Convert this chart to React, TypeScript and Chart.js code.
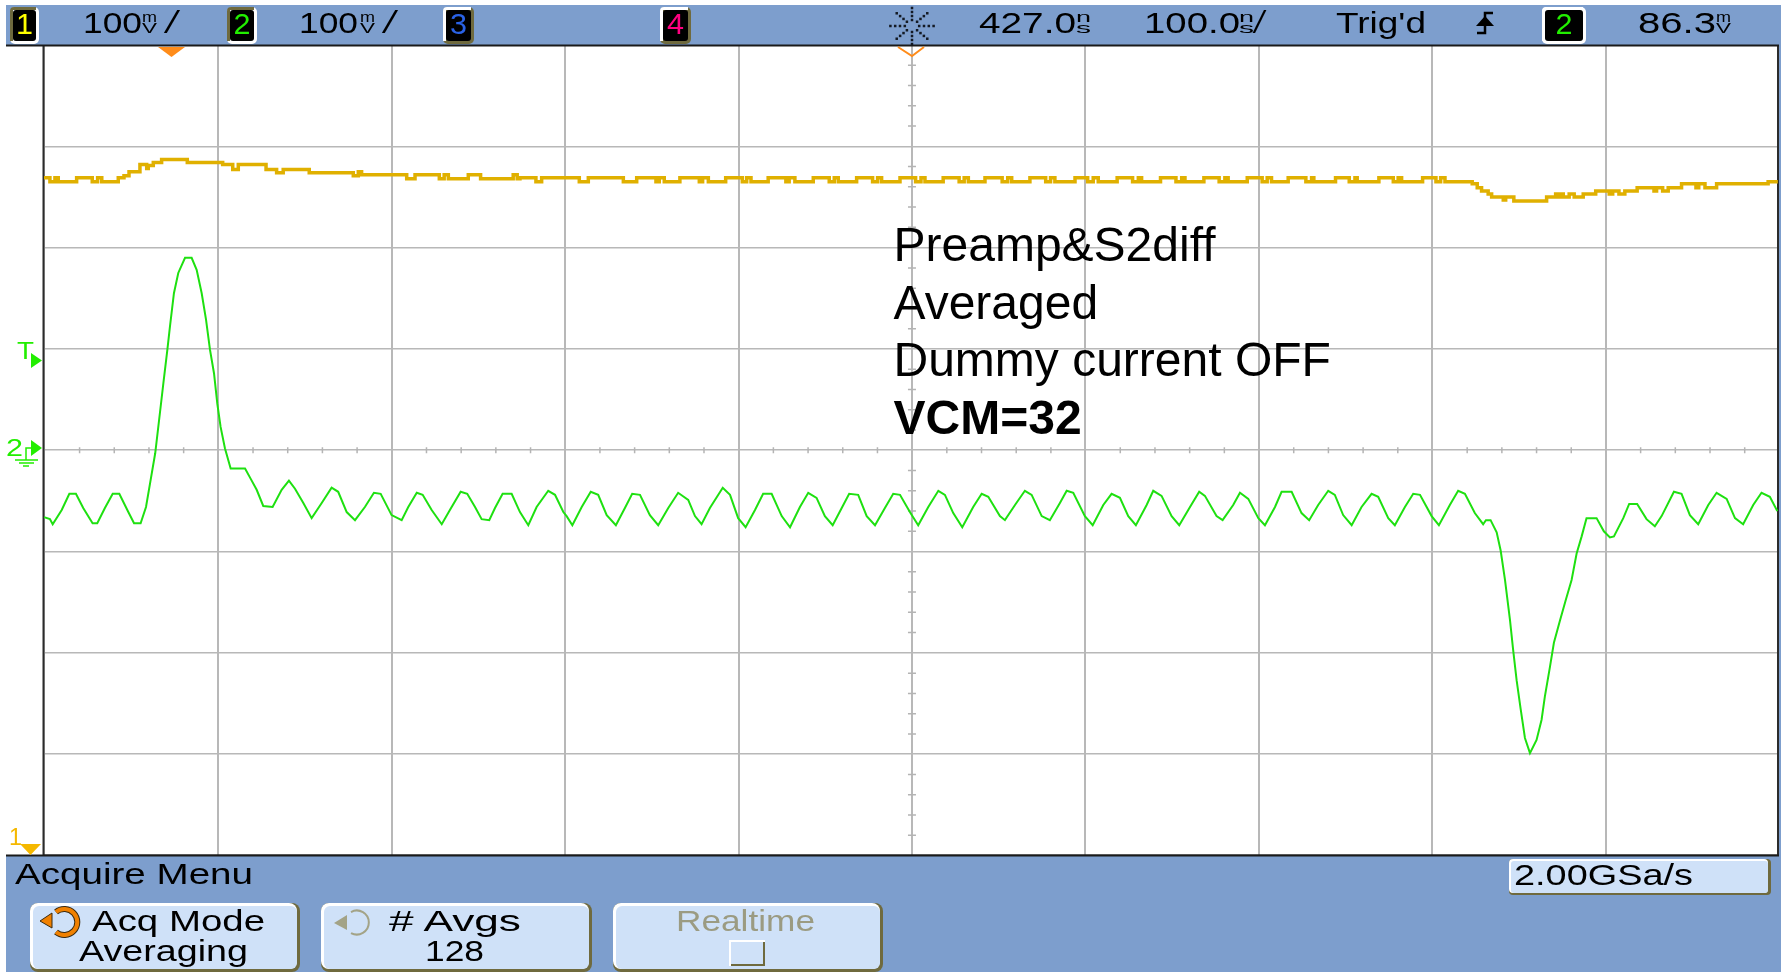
import React, { useEffect, useRef } from "react";
import { Chart, registerables } from "chart.js";

Chart.register(...registerables);

const xGridNs = [-73, 27.8, 127.7, 227.7, 327.7, 427.7, 527.6, 627.6, 727.6, 827.6, 927];
const yGridMv = [-400, -300, -200, -100, 0, 100, 200, 300, 400];

const ch2Ns = [
  -72.7, -69.3, -67.7, -62.5, -58.1, -54.3, -50.1, -44.7, -42, -37.6, -33.1, -29.3, -24.1, -20.8, -17, -13.9,
  -11.2, -8.6, -5.8, -3.9, -1.6, -0.1, 2.2, 4.7, 8.6, 12.4, 15.3, 18.2, 20.7, 23, 25.3, 27.2, 29.1, 31.6, 34.9,
  43.2, 46.4, 49.9, 53.7, 59.1, 64.3, 68.5, 72, 76.8, 81.6, 87.4, 93.1, 96.9, 101.8, 106.6, 112.3, 117.5, 121.4,
  127.7, 133.5, 137.3, 142.2, 145.6, 150.8, 156.6, 161.3, 167.5, 171.3, 175.8, 179.6, 184, 187.3, 191.7, 196.9,
  201.7, 206.5, 211.3, 218, 221.9, 226.7, 228.6, 231.9, 237.3, 242.5, 246.8, 251.7, 257, 262.2, 266.4, 270.9,
  276.6, 281.4, 287.2, 292.9, 298.7, 302.6, 306.4, 311.2, 318.6, 322.8, 327.5, 331.8, 337.2, 341.9, 346.8, 352.6,
  357.4, 363.1, 367.9, 372.7, 377.5, 382, 387.2, 391.5, 396.7, 401.6, 406.4, 412.1, 416.9, 420.8, 426.5, 431.3,
  437.1, 442.9, 446.7, 451.5, 456.7, 463, 467.9, 471.7, 478.4, 481.3, 487.1, 492.8, 496.7, 502.5, 507.2, 513,
  516.9, 520.7, 527.4, 531.9, 538, 542.8, 547.6, 552.4, 556.8, 563, 566.8, 571.6, 577.4, 581.8, 588, 593.3, 596.6,
  603.3, 606.8, 612.9, 616.8, 621.6, 627.4, 631.2, 637, 640.8, 646.6, 652.3, 656.7, 661.9, 667.7, 671.5, 676.3,
  681.2, 686.9, 692.7, 696.5, 702.3, 706.1, 711.9, 716.7, 720.6, 727.3, 731.5, 737.8, 742.6, 746.5, 752.2, 757,
  758.6, 761.3, 764.8, 767.1, 769.6, 772.5, 774.3, 776.3, 778.6, 781.1, 784, 787.8, 790.7, 792.6, 795.5, 797.8,
  801.3, 804.6, 808, 810.9, 813.8, 816.6, 822.4, 826.6, 830.1, 832.4, 837.8, 841.2, 845.8, 851.2, 856, 859.9, 867,
  871.4, 876.2, 881, 886.8, 891.6, 897.4, 902.2, 906.9, 912.7, 917.5, 922.3, 926.6,
];
const ch2Mv = [
  -66, -68, -73, -59, -43, -43, -57, -72, -72, -57, -43, -43, -61, -72, -72, -56,
  -29, -3, 38, 66, 99, 122, 155, 175, 190, 190, 178, 155, 129, 99, 76, 46, 23, 2, -18,
  -18, -28, -39, -55, -56, -39, -30, -38, -52, -67, -52, -37, -41, -61, -69, -56, -42, -43,
  -64, -69, -56, -42, -44, -59, -73, -59, -41, -43, -56, -68, -69, -57, -43, -43,
  -61, -74, -56, -40, -44, -61, -65, -74, -56, -41, -44, -64, -74, -57, -43, -44,
  -64, -74, -57, -42, -49, -65, -73, -57, -37, -44, -67, -76, -59, -43, -43, -65,
  -76, -56, -42, -47, -65, -74, -57, -43, -44, -65, -74, -57, -43, -44, -61, -74,
  -56, -40, -44, -62, -76, -56, -43, -46, -65, -69, -54, -40, -44, -65, -69, -52,
  -40, -42, -65, -74, -54, -43, -47, -65, -74, -54, -40, -45, -65, -74, -56, -41, -45,
  -65, -69, -54, -42, -48, -67, -74, -56, -41, -41, -62, -69, -54, -40, -44, -64,
  -74, -56, -43, -46, -67, -74, -56, -43, -44, -65, -74, -54, -40, -43, -62, -73,
  -69, -69, -81, -99, -128, -168, -197, -227, -255, -284, -299, -286, -266, -243, -214, -190,
  -168, -148, -128, -102, -85, -67, -67, -80, -86, -85, -67, -53, -53, -68, -75, -65, -41,
  -43, -64, -73, -54, -42, -48, -67, -73, -54, -42, -46, -60,
];

const ch1Ns = [
  -72.7, -69.3, -66.4, -64.5, -53.9, -44.9, -41.8, -39.4, -29.9, -26.6, -23.7, -17.4, -13.5, -12.6, -9.7, -4.9,
  9.9, 30.3, 36.1, 39.3, 55.3, 61.4, 65.2, 80.2, 105.6, 108.5, 110.4, 136.4, 141.2, 155.2, 158, 160.4, 171.9, 179,
  197.8, 200.1, 201.7, 210.9, 214.2, 235.9, 241.1, 261.3, 269, 280.1, 282, 284.9, 293.9, 305.1, 307, 310.3, 320.3,
  329.9, 332.4, 334.9, 344.8, 355, 356.9, 360.2, 370.8, 380, 382.9, 385.2, 395.8, 405, 407.9, 410.2, 420.8, 429.8,
  432.9, 435.2, 445.7, 454.9, 457.8, 460.2, 469.8, 479.7, 482.9, 485.2, 495.7, 504.8, 507.6, 510.1, 521.7, 529,
  532.2, 535.1, 546, 554.9, 558.2, 560.1, 571, 579.9, 583.2, 585.1, 596, 604.8, 608.1, 610, 621, 629.6, 632.5, 635,
  644.6, 654.8, 658.1, 659.4, 671.9, 679.8, 683.1, 684.4, 696.9, 705.2, 708, 710, 722.1, 729.8, 732.5, 735, 750.7,
  753.6, 756.1, 759.9, 761.9, 768.6, 770, 774.7, 793.6, 798.8, 799.7, 801.3, 803.2, 806.6, 809.5, 814.7, 821.9,
  829.7, 831.7, 835.3, 838.7, 845.8, 855.5, 857, 860.5, 863.7, 871.4, 879.7, 881.3, 884.9, 891.6, 921.3, 926.9,
];
const ch1Mv = [
  269, 265, 269, 265, 269, 265, 269, 265, 269, 271, 275, 282, 278, 281, 284, 287,
  284, 282, 277, 282, 277, 274, 277, 274, 271, 275, 272, 268, 272, 268, 272, 268, 272, 268,
  272, 268, 269, 265, 269, 265, 269, 265, 269, 265, 269, 265, 269, 265, 269, 265, 269,
  265, 269, 265, 269, 265, 269, 265, 269, 265, 269, 265, 269, 265, 269, 265, 269, 265,
  269, 265, 269, 265, 269, 265, 269, 265, 269, 265, 269, 265, 269, 265, 269, 265,
  269, 265, 269, 265, 269, 265, 269, 265, 269, 265, 269, 265, 269, 265, 269, 265, 269, 265,
  269, 265, 269, 265, 269, 265, 269, 265, 269, 265, 269, 265, 269, 265, 269, 265, 263,
  259, 256, 253, 250, 247, 250, 246, 250, 253, 250, 253, 250, 253, 250, 253, 256,
  253, 256, 253, 256, 259, 256, 259, 256, 259, 263, 259, 263, 259, 263, 265, 265,
];

const annotationLines = ["Preamp&S2diff", "Averaged", "Dummy current OFF"];
const annotationBold = "VCM=32";

const BLUE = "#7d9ecd";
const BTN = "#cfe1f8";
const OLIVE = "#6f6a3e";
const SANS = "'Liberation Sans', Arial, sans-serif";
const MONO = "'Liberation Mono', monospace";

const toPoints = (xs: number[], ys: number[]) => xs.map((x, i) => ({ x, y: ys[i] }));

const graticule = {
  id: "graticule",
  beforeDatasetsDraw(chart: any) {
    const { ctx, chartArea: a, scales } = chart;
    const cx = scales.x.getPixelForValue(427.7);
    const cy = scales.y.getPixelForValue(0);
    ctx.save();
    ctx.strokeStyle = "#b4b4b4";
    ctx.lineWidth = 1.5;
    ctx.beginPath();
    for (let k = -4; k < 46; k++) {
      if (k % 5 === 0) continue;
      const p = scales.x.getPixelForValue(27.8 + k * 20);
      ctx.moveTo(p, cy - 3);
      ctx.lineTo(p, cy + 3);
    }
    for (let v = -400; v <= 400; v += 20) {
      if (v % 100 === 0) continue;
      const p = scales.y.getPixelForValue(v);
      ctx.moveTo(cx - 4, p);
      ctx.lineTo(cx + 4, p);
    }
    ctx.stroke();
    ctx.strokeStyle = "#2b2b2b";
    ctx.lineWidth = 2;
    ctx.strokeRect(a.left, a.top, a.right - a.left, a.bottom - a.top);
    ctx.restore();
  },
};

function T(p: { x: number; y: number; w?: number; s?: number; c?: string; children: any; a?: string; f?: string }) {
  return (
    <text
      x={p.x}
      y={p.y}
      textLength={p.w}
      lengthAdjust="spacingAndGlyphs"
      fontFamily={p.f ?? SANS}
      fontSize={p.s ?? 30}
      fill={p.c ?? "#000"}
      textAnchor={p.a as any}
    >
      {p.children}
    </text>
  );
}

function Badge(p: { x: number; w: number; y?: number; h?: number; tl: string; br: string; c: string; n: string }) {
  const y = p.y ?? 7;
  const h = p.h ?? 37;
  return (
    <g>
      <rect x={p.x} y={y} width={p.w} height={h} rx={5} fill={p.br} />
      <path d={`M${p.x} ${y + h - 3}V${y + 4}Q${p.x} ${y} ${p.x + 4} ${y}H${p.x + p.w - 3}V${y + 3}H${p.x + 3}V${y + h - 3}Z`} fill={p.tl} />
      <rect x={p.x + 3} y={y + 3} width={p.w - 6} height={h - 6} rx={3} fill="#000" />
      <T x={p.x + p.w / 2} y={34} s={30} w={17} c={p.c} a="middle">{p.n}</T>
    </g>
  );
}

function Unit(p: { x: number; a: string; b: string }) {
  return (
    <g>
      <T x={p.x} y={22} s={15} w={15}>{p.a}</T>
      <T x={p.x} y={33} s={15} w={15}>{p.b}</T>
    </g>
  );
}

function Button(p: { x: number; w: number }) {
  return (
    <g>
      <rect x={p.x} y={903} width={p.w} height={69} rx={8} fill={OLIVE} />
      <rect x={p.x} y={903} width={p.w - 3} height={66} rx={8} fill="#fff" />
      <rect x={p.x + 3} y={906} width={p.w - 6} height={63} rx={6} fill={BTN} />
    </g>
  );
}

function Sun() {
  const dots: React.ReactNode[] = [];
  for (let k = 0; k < 8; k++) {
    const ang = (k * Math.PI) / 4;
    for (const r of [6, 10, 14, 18]) {
      dots.push(<rect key={`${k}-${r}`} x={912 + Math.cos(ang) * r * 1.2 - 1.25} y={26 + Math.sin(ang) * r - 1.25} width={2.5} height={2.5} fill="#141a24" />);
    }
  }
  return <g>{dots}</g>;
}

function Panels() {
  return (
    <svg width={1787} height={972} style={{ position: "absolute", left: 0, top: 0 }}>
      <rect x={6} y={5} width={1775} height={40} fill={BLUE} />
      <rect x={6} y={856} width={1775} height={116} fill={BLUE} />
      <rect x={1779} y={45} width={2} height={811} fill={BLUE} />
      <rect x={6} y={44.5} width={1773} height={2} fill="#1a1a1a" />
      <rect x={6} y={854.5} width={1773} height={2} fill="#1a1a1a" />

      <Badge x={10} w={29} tl={OLIVE} br="#ffffff" c="#ffff00" n="1" />
      <T x={83} y={33} w={59}>100</T>
      <Unit x={142} a="m" b="V" />
      <T x={162} y={33} s={32} f={MONO} w={20}>/</T>
      <Badge x={227} w={30} tl={OLIVE} br="#ffffff" c="#22ee00" n="2" />
      <T x={299} y={33} w={59}>100</T>
      <Unit x={360} a="m" b="V" />
      <T x={380} y={33} s={32} f={MONO} w={20}>/</T>
      <Badge x={443} w={31} tl="#ffffff" br={OLIVE} c="#2a62e6" n="3" />
      <Badge x={660} w={31} tl="#ffffff" br={OLIVE} c="#ff0080" n="4" />
      <Sun />
      <T x={979} y={33} w={97}>427.0</T>
      <Unit x={1076} a="n" b="s" />
      <T x={1144} y={33} w={96}>100.0</T>
      <Unit x={1239} a="n" b="s" />
      <T x={1251} y={33} s={32} f={MONO} w={17}>/</T>
      <T x={1336} y={33} w={90}>Trig'd</T>
      <path d="M1493 13H1485V33H1477" fill="none" stroke="#000" strokeWidth={2.5} />
      <path d="M1476 26L1485 16L1494 26Z" fill="#000" />
      <Badge x={1542} w={44} tl="#ffffff" br="#ffffff" c="#22ee00" n="2" />
      <T x={1638} y={33} w={78}>86.3</T>
      <Unit x={1716} a="m" b="V" />

      <path d="M158 47H185L171.5 57Z" fill="#ff8c1a" />
      <path d="M898 47L912 56L924 47" fill="none" stroke="#ff8c1a" strokeWidth={2} />

      <T x={17} y={359} s={24} w={17} c="#22ee00">T</T>
      <path d="M31 353L42 360.5L31 368Z" fill="#22ee00" />
      <T x={6} y={456} s={24} w={17} c="#22ee00">2</T>
      <path d="M31 440L42 448L31 456Z" fill="#22ee00" />
      <path d="M31 448H26V460M15 460H38M19 463H34M23 466H29" fill="none" stroke="#22ee00" strokeWidth={1.5} />
      <T x={9} y={845} s={24} w={13} c="#f5b800">1</T>
      <path d="M20 844H41L30.5 855Z" fill="#f5b800" />

      <T x={15} y={884} w={238}>Acquire Menu</T>
      <Button x={30} w={270} />
      <Button x={321} w={271} />
      <Button x={613} w={270} />
      <path d="M56 912A13 13 0 1 1 56 932" fill="none" stroke="#3a2a10" strokeWidth={6} />
      <path d="M56 912A13 13 0 1 1 56 932" fill="none" stroke="#f08000" strokeWidth={4} />
      <path d="M40 921L52 913L52 928Z" fill="#f08000" stroke="#3a2a10" strokeWidth={1} />
      <T x={92} y={931} w={173}>Acq Mode</T>
      <T x={79} y={961} w={169}>Averaging</T>
      <path d="M351 912A12 12 0 1 1 351 933" fill="none" stroke="#a3a387" strokeWidth={2} />
      <path d="M334 923L347 915L347 930Z" fill="#a3a387" />
      <T x={389} y={931} w={132}># Avgs</T>
      <T x={425} y={961} w={59}>128</T>
      <T x={676} y={931} w={139} c="#9b9b82">Realtime</T>
      <rect x={729} y={940} width={36} height={26} fill="#fff" />
      <rect x={731} y={942} width={34} height={24} fill={OLIVE} />
      <rect x={731} y={942} width={32} height={22} fill={BTN} />

      <rect x={1509} y={859} width={262} height={36} rx={4} fill={OLIVE} />
      <rect x={1509} y={859} width={259} height={34} rx={4} fill="#fff" />
      <rect x={1511} y={861} width={257} height={32} rx={3} fill={BTN} />
      <T x={1514} y={885} w={179}>2.00GSa/s</T>

      {annotationLines.map((line, i) => (
        <text key={line} x={893.5} y={261 + i * 57.6} fontFamily={SANS} fontSize={48} fill="#000">
          {line}
        </text>
      ))}
      <text x={893.5} y={434} fontFamily={SANS} fontWeight="bold" fontSize={48} fill="#000">
        {annotationBold}
      </text>
    </svg>
  );
}

export default function App() {
  const ref = useRef<HTMLCanvasElement>(null);
  useEffect(() => {
    const chart = new Chart(ref.current!, {
      type: "line",
      data: {
        datasets: [
          {
            label: "Channel 1",
            data: toPoints(ch1Ns, ch1Mv),
            borderColor: "#e0b000",
            borderWidth: 3.5,
            stepped: true,
            pointRadius: 0,
          },
          {
            label: "Channel 2",
            data: toPoints(ch2Ns, ch2Mv),
            borderColor: "#1ee010",
            borderWidth: 2,
            tension: 0,
            pointRadius: 0,
          },
        ],
      },
      plugins: [graticule],
      options: {
        responsive: false,
        animation: false,
        parsing: false,
        normalized: true,
        layout: { padding: { left: 43.5, right: 9, top: 45, bottom: 116.5 } },
        plugins: { legend: { display: false }, tooltip: { enabled: false }, title: { display: false } },
        scales: {
          x: {
            type: "linear",
            min: -73,
            max: 927,
            afterBuildTicks: (s: any) => {
              s.ticks = xGridNs.map((value) => ({ value }));
            },
            ticks: { display: false },
            border: { display: false },
            grid: { color: "#b8b8b8", lineWidth: 2, drawTicks: false },
          },
          y: {
            type: "linear",
            min: -400,
            max: 400,
            afterBuildTicks: (s: any) => {
              s.ticks = yGridMv.map((value) => ({ value }));
            },
            ticks: { display: false },
            border: { display: false },
            grid: { color: "#b8b8b8", lineWidth: 1.6, drawTicks: false },
          },
        },
      },
    } as any);
    return () => chart.destroy();
  }, []);
  return (
    <div style={{ position: "fixed", left: 0, top: 0, width: 1787, height: 972, background: "#fff", overflow: "hidden" }}>
      <canvas ref={ref} width={1787} height={972} style={{ position: "absolute", left: 0, top: 0, display: "block" }} />
      <Panels />
    </div>
  );
}
